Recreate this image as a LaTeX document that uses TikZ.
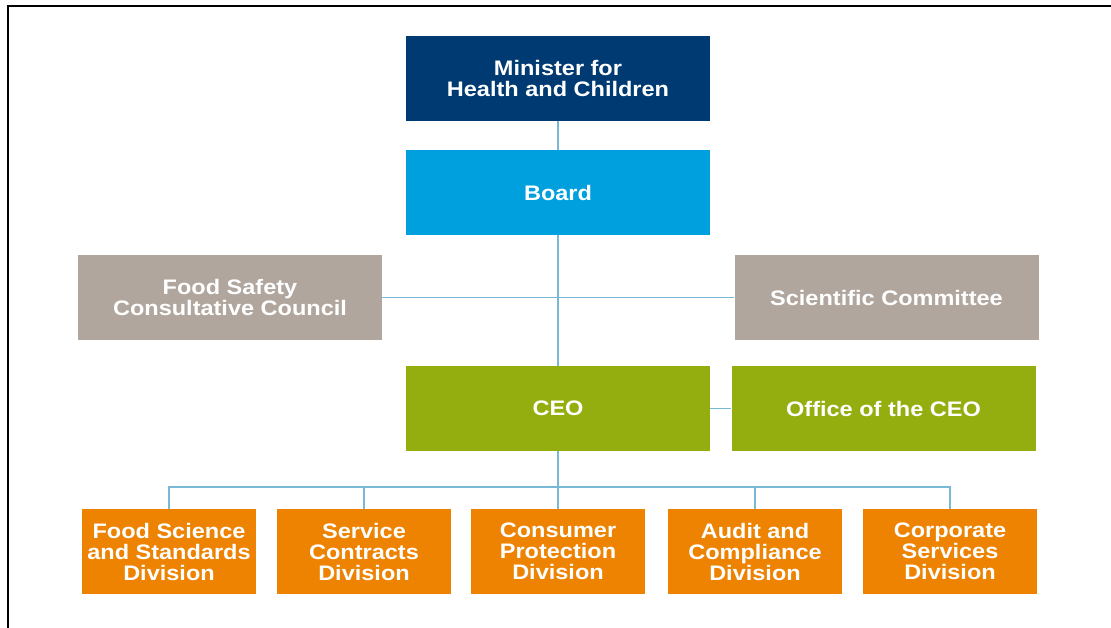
\documentclass[tikz,border=0pt]{standalone}
\usepackage{fontspec}
\setmainfont{Liberation Sans}[FakeStretch=1.12]
\usepackage{tikz}
\usetikzlibrary{positioning}
\definecolor{minblue}{RGB}{0,58,114}
\definecolor{boardblue}{RGB}{0,160,223}
\definecolor{councilgrey}{RGB}{176,166,157}
\definecolor{ceogreen}{RGB}{147,174,14}
\definecolor{divorange}{RGB}{237,131,0}
\definecolor{linkblue}{RGB}{122,185,214}
\tikzstyle{unit}=[rectangle, inner sep=0pt, align=center, text=white,
    font=\fontsize{21}{21}\selectfont\bfseries]
\tikzstyle{unit_wide}=[unit, minimum width=304pt, minimum height=85pt]
\tikzstyle{unit_div}=[unit, minimum width=174pt, minimum height=85pt]
\tikzstyle{link}=[draw=linkblue, line width=1.3pt]

\begin{document}
\begin{tikzpicture}[x=1pt, y=-1pt]
\useasboundingbox (0,0) rectangle (1111,628);
\draw[line width=2pt] (8,628) -- (8,6.5) -- (1111,6.5);
\node[unit_wide, fill=minblue] (minister) at (558,78.5){Minister for\\Health and Children};
\node[unit_wide, fill=boardblue] (board) at (558,192.5){Board};
\node[unit_wide, fill=councilgrey] (council) at (230,297.5){Food Safety\\Consultative Council};
\node[unit_wide, fill=councilgrey] (scicom) at (886.5,297.5){Scientific Committee};
\node[unit_wide, fill=ceogreen] (ceo) at (558,408.5){CEO};
\node[unit_wide, fill=ceogreen] (office) at (883.5,408.5){Office of the CEO};
\node[unit_div, fill=divorange] (div1) at (169,551.5){Food Science\\and Standards\\Division};
\node[unit_div, fill=divorange] (div2) at (364,551.5){Service\\Contracts\\Division};
\node[unit_div, fill=divorange] (div3) at (558,551.5){Consumer\\Protection\\Division};
\node[unit_div, fill=divorange] (div4) at (755,551.5){Audit and\\Compliance\\Division};
\node[unit_div, fill=divorange] (div5) at (950,551.5){Corporate\\Services\\Division};
\coordinate (bus) at (558,487);
\draw[link](minister) -- (board);
\draw[link](board) -- (ceo);
\draw[link](council) -- (scicom);
\draw[link](ceo) -- (office);
\draw[link](ceo) -- (div3);
\draw[link](div1.north) |- (bus) -| (div5.north);
\draw[link](div2.north) -- (div2.north |- bus);
\draw[link](div4.north) -- (div4.north |- bus);
\end{tikzpicture}
\end{document}
